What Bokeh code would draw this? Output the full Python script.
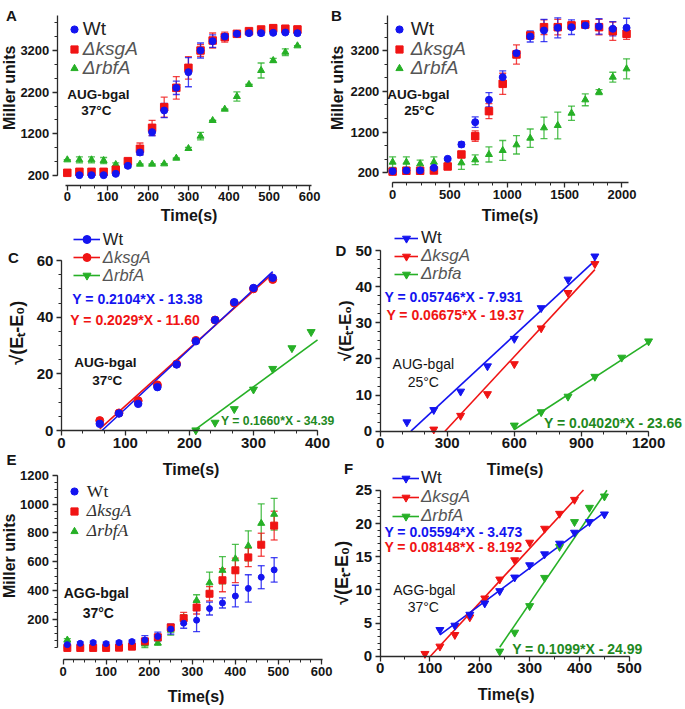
import numpy as np
from bokeh.plotting import figure
from bokeh.models import (Range1d, FixedTicker, Label, Legend, LegendItem,
                          Whisker, TeeHead, ColumnDataSource)
from bokeh.layouts import column, row
from bokeh.embed import file_html
from bokeh.resources import INLINE

# ------------------------------------------------------------------ data
# Panel A : AUG-bgal 37 C (Miller units)
tA_wt = [30, 60, 90, 120, 150, 180, 210, 240, 270, 300, 330, 360, 390, 420, 450, 480, 510, 540, 570]
A_wt = [208, 208, 208, 240, 432, 752, 1240, 1760, 2304, 2680, 3200, 3424, 3536, 3600, 3616, 3616, 3624, 3632, 3616]
A_wt_err = [0, 0, 0, 30, 40, 60, 90, 170, 160, 350, 180, 150, 60, 30, 40, 50, 30, 30, 40]
tA_ksg = [0, 30, 60, 90, 120, 150, 180, 210, 240, 270, 300, 330, 360, 390, 420, 450, 480, 510, 540, 570]
A_ksg = [264, 288, 288, 288, 336, 544, 840, 1344, 1840, 2304, 2784, 3200, 3440, 3520, 3600, 3664, 3704, 3736, 3720, 3704]
A_ksg_err = [0, 30, 30, 30, 50, 50, 140, 180, 240, 270, 270, 140, 180, 120, 40, 60, 70, 80, 80, 80]
tA_rbf = [0, 30, 60, 90, 120, 180, 210, 240, 270, 300, 330, 360, 390, 420, 450, 480, 510, 540, 570]
A_rbf = [576, 576, 576, 560, 464, 472, 472, 480, 616, 848, 1144, 1520, 1792, 2096, 2384, 2720, 2960, 3160, 3312]
A_rbf_err = [0, 72, 72, 72, 40, 0, 0, 0, 0, 25, 90, 0, 0, 110, 0, 180, 50, 80, 0]

# Panel B : AUG-bgal 25 C (Miller units)
tB = [0, 120, 240, 360, 480, 600, 720, 840, 960, 1080, 1200, 1320, 1440, 1560, 1680, 1800, 1920, 2040]
B_wt = [240, 257, 257, 322, 543, 896, 1444, 1993, 2550, 3140, 3549, 3697, 3762, 3778, 3819, 3795, 3738, 3762]
B_wt_err = [20, 20, 20, 30, 30, 60, 130, 175, 155, 60, 135, 275, 245, 180, 60, 190, 175, 235]
B_ksg = [230, 250, 250, 257, 355, 650, 1100, 1715, 2386, 3107, 3574, 3778, 3778, 3819, 3844, 3778, 3680, 3615]
B_ksg_err = [20, 20, 20, 30, 30, 60, 130, 185, 260, 235, 70, 180, 190, 90, 40, 190, 225, 135]
B_rbf = [462, 462, 421, 462, 437, 445, 519, 650, 748, 887, 1051, 1305, 1363, 1665, 1993, 2182, 2550, 2755]
B_rbf_err = [130, 130, 90, 130, 60, 160, 120, 185, 245, 225, 225, 265, 330, 175, 145, 60, 120, 245]

# Panel C : sqrt(Et-E0), AUG-bgal 37 C
tC = [60, 90, 120, 150, 180, 210, 240, 270, 300, 330]
C_wt = [2.35, 6.0, 9.4, 15.3, 23.3, 31.5, 39.0, 45.3, 50.3, 53.9]
C_ksg = [3.5, 6.2, 10.5, 16.1, 23.5, 31.8, 39.0, 45.0, 50.0, 53.3]
tC_rbf = [210, 240, 270, 300, 330, 360, 390]
C_rbf = [0.1, 2.8, 7.6, 14.5, 21.8, 29.1, 34.8]
C_slope = [0.2104, 0.2029, 0.1660]
C_icpt = [-13.38, -11.60, -34.39]
C_fit_x0 = [63.6, 60, 210]
C_fit_x1 = [330, 330, 400]
C_eq = ["Y = 0.2104*X - 13.38", "Y = 0.2029*X - 11.60", "Y = 0.1660*X - 34.39"]

# Panel D : sqrt(Et-E0), AUG-bgal 25 C
tD_wt = [120, 240, 360, 480, 600, 720, 840, 960]
D_wt = [2.5, 5.9, 11.0, 18.0, 25.6, 34.1, 42.0, 48.4]
tD_ksg = [240, 360, 480, 600, 720, 840, 960]
D_ksg = [0.5, 4.3, 10.3, 18.6, 28.5, 38.3, 46.3]
tD_rbf = [600, 720, 840, 960, 1080, 1200]
D_rbf = [1.6, 5.3, 9.6, 15.1, 20.4, 24.9]
D_slope = [0.05746, 0.06675, 0.04020]
D_icpt = [-7.931, -19.37, -23.66]
D_fit_x0 = [138, 290, 600]
D_fit_x1 = [960, 960, 1200]
D_eq = ["Y = 0.05746*X - 7.931", "Y = 0.06675*X - 19.37", "Y = 0.04020*X - 23.66"]

# Panel E : AGG-bgal 37 C (Miller units)
tE = [10, 40, 70, 100, 130, 160, 190, 220, 250, 280, 310, 340, 370, 400, 430, 460, 490]
E_wt = [23, 32, 37, 30, 37, 44, 55, 80, 131, 172, 193, 274, 313, 361, 414, 492, 543]
E_wt_err = [10, 10, 10, 10, 10, 10, 30, 30, 35, 35, 80, 45, 35, 75, 95, 80, 85]
E_ksg = [0, 0, 0, 0, 2, 9, 46, 74, 143, 207, 281, 377, 471, 540, 630, 718, 851]
E_ksg_err = [0, 0, 0, 0, 0, 0, 15, 20, 20, 40, 45, 50, 80, 85, 65, 80, 100]
tE_rbf = [10, 190, 220, 250, 280, 310, 340, 370, 400, 430, 460, 490]
E_rbf = [55, 27, 34, 124, 210, 330, 453, 540, 620, 710, 867, 930]
E_rbf_err = [10, 25, 15, 35, 20, 40, 75, 95, 100, 105, 135, 110]

# Panel F : sqrt(Et-E0), AGG-bgal 37 C
tF_wt = [120, 150, 180, 210, 240, 270, 300, 330, 360, 390, 420, 450]
F_wt = [4.0, 4.65, 6.3, 8.0, 9.85, 11.9, 13.75, 15.4, 17.0, 18.65, 20.25, 21.4]
tF_ksg = [90, 120, 150, 180, 210, 240, 270, 300, 330, 360, 390]
F_ksg = [0.4, 1.5, 3.25, 5.9, 8.75, 11.6, 14.5, 17.15, 19.25, 21.5, 23.6]
tF_rbf = [240, 270, 300, 330, 360, 390, 420, 450]
F_rbf = [0.75, 3.6, 7.6, 11.85, 16.5, 20.25, 22.4, 24.1]
F_slope = [0.05594, 0.08148, 0.1099]
F_icpt = [-3.473, -8.192, -24.99]
F_fit_x0 = [120, 100.5, 240]
F_fit_x1 = [450, 408, 455]
F_eq = ["Y = 0.05594*X - 3.473", "Y = 0.08148*X - 8.192", "Y = 0.1099*X - 24.99"]

# ------------------------------------------------------------------ style
S = 0.998
SANS = "Liberation Sans"
SERIF = "Liberation Serif"
BLUE = "#1414F0"
RED = "#F01414"
GREEN = "#26B026"
GTXT = "#1F8A1F"
INK = "#151515"
AX = "#2a2a2a"
SQRT_T = "\u221a(E\u209c-E\u2080)"


def R(v):
    return int(round(v * S))


def fs(v):
    return "%.1fpx" % (v * S)


def make(W, H, ox, kx, oy, ky, xat, yat, xt, xm, yt, ym, xb, yb, tfs=13):
    """Figure whose frame fills the whole canvas.  Pixel X = ox + kx*x,
    pixel Y (from top) = oy - ky*y, in reference pixels."""
    w, h = R(W), R(H)
    xr = ((0 - ox) / kx, (W - ox) / kx)
    yr = ((oy - H) / ky, oy / ky)
    p = figure(width=w, height=h, x_range=Range1d(*xr), y_range=Range1d(*yr),
               output_backend="svg", toolbar_location=None,
               min_border=0, min_border_left=0, min_border_right=0,
               min_border_top=0, min_border_bottom=0)
    p.outline_line_color = None
    p.grid.visible = False
    p.xaxis.ticker = FixedTicker(ticks=list(xt), minor_ticks=list(xm))
    p.yaxis.ticker = FixedTicker(ticks=list(yt), minor_ticks=list(ym))
    p.xaxis.bounds = xb
    p.yaxis.bounds = yb
    p.xaxis.fixed_location = xat
    p.yaxis.fixed_location = yat
    for ax in p.axis:
        ax.axis_line_color = AX
        ax.axis_line_width = 1.3
        ax.major_tick_line_color = AX
        ax.major_tick_line_width = 1.3
        ax.minor_tick_line_color = AX
        ax.minor_tick_line_width = 1.0
        ax.major_tick_out = R(5)
        ax.major_tick_in = 0
        ax.minor_tick_out = R(3)
        ax.minor_tick_in = 0
        ax.major_label_text_font = SANS
        ax.major_label_text_font_style = "bold"
        ax.major_label_text_font_size = fs(tfs)
        ax.major_label_text_color = INK
    p.xaxis.major_label_standoff = R(2)
    p.yaxis.major_label_standoff = R(3)
    return p, H


def txt(p, H, X, Y, text, size, color=INK, style="bold", align="center",
        font=SANS, angle=0.0):
    p.add_layout(Label(x=X * S, y=(H - Y) * S, x_units="screen", y_units="screen",
                       text=text, text_font=font, text_font_size=fs(size),
                       text_font_style=style, text_color=color, text_align=align,
                       text_baseline="middle", angle=angle))


def leg(p, H, renderers, label, Xg, Yc, gw, size, color, style, font=SANS, standoff=0):
    ih = 20
    L = Legend(items=[LegendItem(label=label, renderers=renderers)],
               location=(Xg * S, (H - Yc - ih / 2) * S),
               glyph_width=R(gw), glyph_height=R(ih), label_height=R(ih), label_width=10,
               label_standoff=R(standoff), padding=0, margin=0, spacing=0,
               border_line_color=None, background_fill_alpha=0,
               label_text_font=font, label_text_font_size=fs(size),
               label_text_font_style=style, label_text_color=color)
    p.add_layout(L)


def series(p, t, v, e, color, marker, size):
    if e is not None:
        lo = [a - b for a, b in zip(v, e)]
        hi = [a + b for a, b in zip(v, e)]
        src = ColumnDataSource(dict(x=t, lo=lo, hi=hi))
        p.add_layout(Whisker(source=src, base="x", lower="lo", upper="hi",
                             line_color=color, line_width=1.3, line_alpha=0.8,
                             lower_head=TeeHead(size=R(7), line_color=color, line_width=1.3, line_alpha=0.8),
                             upper_head=TeeHead(size=R(7), line_color=color, line_width=1.3, line_alpha=0.8)))
    return p.scatter(t, v, marker=marker, size=size * S, fill_color=color, line_color=color)


def fit(p, a, b, x0, x1, color):
    xs = [x0, x1]
    ys = [a * x + b for x in xs]
    return p.line(xs, ys, line_color=color, line_width=1.6)


cols = [BLUE, RED, GREEN]

# ------------------------------------------------------------------ panel A  (figure at 0,0)
pA, hA = make(328, 225, 67, 0.405, 183.33, 0.041667, -40, -24.7,
              range(0, 601, 100), np.arange(0, 601, 100 / 3),
              [200, 1200, 2200, 3200], np.arange(200, 4041, 1000 / 3),
              xb=(-5, 605), yb=(200, 4040))
rA3 = series(pA, tA_rbf, A_rbf, A_rbf_err, GREEN, "triangle", 7)
rA2 = series(pA, tA_ksg, A_ksg, A_ksg_err, RED, "square", 7.5)
rA1 = series(pA, tA_wt, A_wt, A_wt_err, BLUE, "circle", 7)
txt(pA, hA, 11, 15, "A", 15)
txt(pA, hA, 9, 87, "Miller units", 16, angle=np.pi / 2)
txt(pA, hA, 189, 215, "Time(s)", 16)
txt(pA, hA, 98, 94, "AUG-bgal", 13.5)
txt(pA, hA, 96, 110, "37\u00b0C", 13.5)
leg(pA, hA, [rA1], "Wt", 65, 29.3, 18, 19, "#222222", "normal")
leg(pA, hA, [rA2], "\u0394ksgA", 65, 49.3, 18, 19, "#555555", "italic")
leg(pA, hA, [rA3], "\u0394rbfA", 65, 68.3, 18, 19, "#555555", "italic")

# ------------------------------------------------------------------ panel B  (figure at 328,0)
pB, hB = make(357, 225, 65.3, 0.115, 180.44, 0.0407, -45.7, -46,
              range(0, 2001, 500), np.arange(0, 2061, 125),
              [200, 1200, 2200, 3200], np.arange(200, 4066, 1000 / 3),
              xb=(0, 2060), yb=(200, 4065))
rB3 = series(pB, tB, B_rbf, B_rbf_err, GREEN, "triangle", 7)
rB2 = series(pB, tB, B_ksg, B_ksg_err, RED, "square", 7.5)
rB1 = series(pB, tB, B_wt, B_wt_err, BLUE, "circle", 7)
txt(pB, hB, 9, 15, "B", 15)
txt(pB, hB, 10, 87, "Miller units", 16, angle=np.pi / 2)
txt(pB, hB, 183, 215, "Time(s)", 16)
txt(pB, hB, 91, 94, "AUG-bgal", 13.5)
txt(pB, hB, 92, 110, "25\u00b0C", 13.5)
leg(pB, hB, [rB1], "Wt", 63, 30, 18, 19, "#222222", "normal", standoff=2.7)
leg(pB, hB, [rB2], "\u0394ksgA", 63, 49.3, 18, 19, "#555555", "italic", standoff=2.7)
leg(pB, hB, [rB3], "\u0394rbfA", 63, 68.3, 18, 19, "#555555", "italic", standoff=2.7)

# ------------------------------------------------------------------ panel C  (figure at 0,225)
pC, hC = make(336, 226, 61, 0.6425, 205, 2.833, 0, 0,
              range(0, 401, 100), np.arange(0, 401, 100 / 3),
              range(0, 61, 20), np.arange(0, 61, 5),
              xb=(0, 400), yb=(0, 60), tfs=15)
lC = [fit(pC, C_slope[i], C_icpt[i], C_fit_x0[i], C_fit_x1[i], cols[i]) for i in (2, 1, 0)][::-1]
sC3 = series(pC, tC_rbf, C_rbf, None, GREEN, "inverted_triangle", 8)
sC2 = series(pC, tC, C_ksg, None, RED, "circle", 8)
sC1 = series(pC, tC, C_wt, None, BLUE, "circle", 7.5)
txt(pC, hC, 13, 32, "C", 15)
txt(pC, hC, 17, 107, SQRT_T, 18, angle=np.pi / 2)
txt(pC, hC, 105, 137, "AUG-bgal", 13.5)
txt(pC, hC, 107, 155, "37\u00b0C", 13.5)
txt(pC, hC, 72, 73, C_eq[0], 14, color=BLUE, align="left")
txt(pC, hC, 70, 94, C_eq[1], 14, color=RED, align="left")
txt(pC, hC, 221, 195, C_eq[2], 12.2, color=GTXT, align="left")
leg(pC, hC, [lC[0], sC1], "Wt", 73, 14, 27, 16.5, "#222222", "normal", standoff=3)
leg(pC, hC, [lC[1], sC2], "\u0394ksgA", 73, 32, 27, 16.5, "#555555", "italic", standoff=3)
leg(pC, hC, [lC[2], sC3], "\u0394rbfA", 73, 50, 27, 16.5, "#555555", "italic", standoff=3)

# ------------------------------------------------------------------ panel D  (figure at 336,225)
pD, hD = make(349, 226, 44.7, 0.2244, 205.7, 3.613, 0, 0,
              range(0, 1201, 300), np.arange(0, 1201, 100),
              range(0, 51, 10), np.arange(0, 51, 2.5),
              xb=(0, 1200), yb=(0, 50), tfs=15)
lD = [fit(pD, D_slope[i], D_icpt[i], D_fit_x0[i], D_fit_x1[i], cols[i]) for i in (2, 1, 0)][::-1]
sD3 = series(pD, tD_rbf, D_rbf, None, GREEN, "inverted_triangle", 8)
sD2 = series(pD, tD_ksg, D_ksg, None, RED, "inverted_triangle", 8)
sD1 = series(pD, tD_wt, D_wt, None, BLUE, "inverted_triangle", 8)
txt(pD, hD, 5.5, 25, "D", 15)
txt(pD, hD, 10.2, 105, SQRT_T, 17, angle=np.pi / 2)
txt(pD, hD, 88, 138, "AUG-bgal", 14, style="normal")
txt(pD, hD, 88, 156, "25\u00b0C", 14, style="normal")
txt(pD, hD, 49, 71, D_eq[0], 14, color=BLUE, align="left")
txt(pD, hD, 51, 89, D_eq[1], 14, color=RED, align="left")
txt(pD, hD, 209, 197, D_eq[2], 14, color=GTXT, align="left")
leg(pD, hD, [lD[0], sD1], "Wt", 59, 12.5, 24, 17, "#222222", "normal", standoff=3)
leg(pD, hD, [lD[1], sD2], "\u0394ksgA", 59, 30.5, 24, 17, "#555555", "italic", standoff=3)
leg(pD, hD, [lD[2], sD3], "\u0394rbfa", 59, 48.5, 24, 17, "#555555", "italic", standoff=3)

# ------------------------------------------------------------------ panel E  (figure at 0,451)
pE, hE = make(334, 258, 62.7, 0.4322, 197.2, 0.1443, -81.8, -13.9,
              range(0, 601, 100), np.arange(0, 601, 25),
              range(200, 1201, 200), np.arange(0, 1201, 50),
              xb=(0, 603), yb=(0, 1200))
rE3 = series(pE, tE_rbf, E_rbf, E_rbf_err, GREEN, "triangle", 7)
rE2 = series(pE, tE, E_ksg, E_ksg_err, RED, "square", 7)
rE1 = series(pE, tE, E_wt, E_wt_err, BLUE, "circle", 6)
txt(pE, hE, 11, 9, "E", 15)
txt(pE, hE, 191, 19, "Time(s)", 16)          # x title of panel C
txt(pE, hE, 9, 105, "Miller units", 16, angle=np.pi / 2)
txt(pE, hE, 196, 246, "Time(s)", 16)
txt(pE, hE, 96, 142, "AGG-bgal", 14)
txt(pE, hE, 98, 162, "37\u00b0C", 14)
leg(pE, hE, [rE1], "Wt", 65, 41.5, 18, 17.5, "#222222", "normal", font=SERIF, standoff=4)
leg(pE, hE, [rE2], "\u0394ksgA", 65, 61, 18, 17.5, "#333333", "italic", font=SERIF, standoff=4)
leg(pE, hE, [rE3], "\u0394rbfA", 65, 81, 18, 17.5, "#333333", "italic", font=SERIF, standoff=4)

# ------------------------------------------------------------------ panel F  (figure at 334,451)
pF, hF = make(351, 258, 46.7, 0.5, 205.7, 6.667, 0, 0,
              range(0, 501, 100), np.arange(0, 501, 50),
              range(0, 26, 5), np.arange(0, 26, 1),
              xb=(0, 500), yb=(0, 25), tfs=15)
lF = [fit(pF, F_slope[i], F_icpt[i], F_fit_x0[i], F_fit_x1[i], cols[i]) for i in (2, 1, 0)][::-1]
sF3 = series(pF, tF_rbf, F_rbf, None, GREEN, "inverted_triangle", 8)
sF2 = series(pF, tF_ksg, F_ksg, None, RED, "inverted_triangle", 8)
sF1 = series(pF, tF_wt, F_wt, None, BLUE, "inverted_triangle", 8)
txt(pF, hF, 15, 18, "F", 15)
txt(pF, hF, 182, 19, "Time(s)", 16)          # x title of panel D
txt(pF, hF, 9, 122, SQRT_T, 18, angle=np.pi / 2)
txt(pF, hF, 173, 244, "Time(s)", 16)
txt(pF, hF, 91, 139, "AGG-bgal", 14, style="normal")
txt(pF, hF, 90, 156, "37\u00b0C", 14, style="normal")
txt(pF, hF, 51, 80.7, F_eq[0], 14, color=BLUE, align="left")
txt(pF, hF, 51, 96.3, F_eq[1], 14, color=RED, align="left")
txt(pF, hF, 179, 198.3, F_eq[2], 14, color=GTXT, align="left")
leg(pF, hF, [lF[0], sF1], "Wt", 59, 27.3, 27, 17, "#222222", "normal", standoff=2)
leg(pF, hF, [lF[1], sF2], "\u0394ksgA", 59, 46.7, 27, 17, "#555555", "italic", standoff=2)
leg(pF, hF, [lF[2], sF3], "\u0394rbfA", 59, 65.7, 27, 17, "#555555", "italic", standoff=2)

layout = column(row(pA, pB), row(pC, pD), row(pE, pF))
open("out.html", "w").write(file_html(layout, INLINE))
